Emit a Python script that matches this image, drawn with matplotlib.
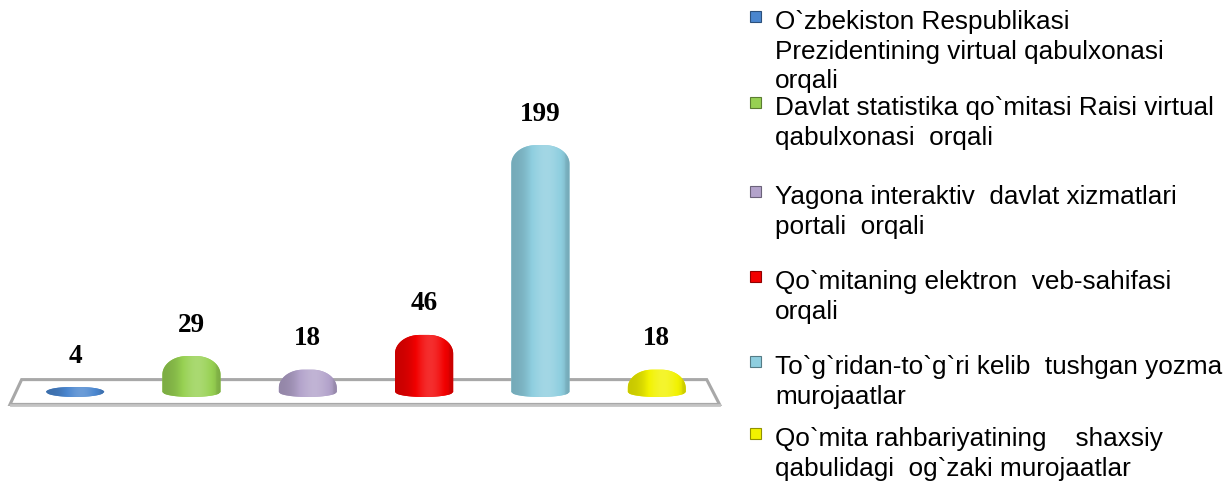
import numpy as np
import matplotlib
matplotlib.use("Agg")
import matplotlib.pyplot as plt
from matplotlib.patches import Polygon, Rectangle
from matplotlib.colors import to_rgb

# data
labels = [
    "O`zbekiston Respublikasi\nPrezidentining virtual qabulxonasi\norqali",
    "Davlat statistika qo`mitasi Raisi virtual\nqabulxonasi  orqali",
    "Yagona interaktiv  davlat xizmatlari\nportali  orqali",
    "Qo`mitaning elektron  veb-sahifasi\norqali",
    "To`g`ridan-to`g`ri kelib  tushgan yozma\nmurojaatlar",
    "Qo`mita rahbariyatining    shaxsiy\nqabulidagi  og`zaki murojaatlar",
]
values = [4, 29, 18, 46, 199, 18]
colors = ["#4A86CF", "#97D152", "#B3A3CB", "#F20000", "#8ECEDF", "#F2F200"]

fig = plt.figure(figsize=(12.32, 4.92), dpi=100)
ax = fig.add_axes([0, 0, 730 / 1232, 1])
ax.set_xlim(-0.646, 5.63)
ax.set_ylim(-80.6, 316)
ax.axis("off")

# floor slab
floor = Polygon([(-0.56, -10.0), (5.54, -10.0), (5.43, 10.0), (-0.46, 10.0)],
                closed=True, facecolor="white", edgecolor="#A8A8A8", lw=2.2, zorder=1)
ax.add_patch(floor)
ax.plot([-0.555, 5.535], [-10.8, -10.8], color="#C4C4C4", lw=2, zorder=1)


def shade(c, f):
    c = np.array(to_rgb(c))
    if f >= 1:
        return c + (1 - c) * min(f - 1, 1)
    return c * f


def bar_path(x, v, w=0.5, rx=0.21, ry0=15.0, d=4.0):
    ry = min(ry0, v)
    pts = []
    # bottom arc
    for t in np.linspace(-1, 1, 30):
        pts.append((x + t * w / 2, -d * np.sqrt(max(0, 1 - t * t))))
    # right top corner
    for a in np.linspace(0, np.pi / 2, 20):
        pts.append((x + w / 2 - rx + rx * np.cos(a), v - ry + ry * np.sin(a)))
    # left top corner
    for a in np.linspace(np.pi / 2, np.pi, 20):
        pts.append((x - w / 2 + rx + rx * np.cos(a), v - ry + ry * np.sin(a)))
    return pts


w = 0.5
xs = np.arange(len(values))
for x, v, c in zip(xs, values, colors):
    patch = Polygon(bar_path(x, v, w), closed=True, facecolor=c, edgecolor="none", zorder=3)
    ax.add_patch(patch)
    t = np.linspace(0, 1, 120)
    prof = 0.82 + 0.36 * np.exp(-((t - 0.6) / 0.3) ** 2) - 0.06 * (t > 0.92)
    img = np.array([[shade(c, f) for f in prof]])
    im = ax.imshow(img, extent=(x - w / 2, x + w / 2, -5, v + 1), aspect="auto",
                   interpolation="bicubic", zorder=4)
    im.set_clip_path(patch)
    ax.text(x, v + 25, str(v), ha="center", va="center", fontsize=19.5,
            fontweight="bold", family="Liberation Serif", zorder=5)

# legend drawn as text entries
item_y = [24, 110, 199, 284, 369, 441]
for lab, c, yy in zip(labels, colors, item_y):
    fig.text(775 / 1232, 1 - (yy - 14) / 492, lab, ha="left", va="top",
             fontsize=18.8, family="Liberation Sans", linespacing=1.3)
    sq = Rectangle((750 / 1232, 1 - (yy - 2) / 492), 11 / 1232, 11 / 492,
                   transform=fig.transFigure, facecolor=c, edgecolor=shade(c, 0.6), lw=0.8)
    fig.add_artist(sq)

fig.savefig("out.png", dpi=100, facecolor="white")
